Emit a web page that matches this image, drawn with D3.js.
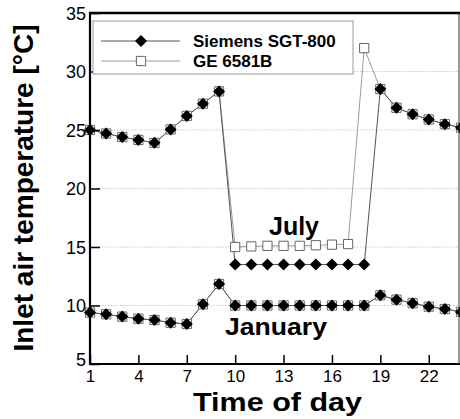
<!DOCTYPE html>
<html>
<head>
<meta charset="utf-8">
<script src="https://cdn.jsdelivr.net/npm/d3@7"></script>
<style>
  body { margin: 0; background: #fff; }
  svg { display: block; font-family: "Liberation Sans", Arial, sans-serif; }
</style>
</head>
<body>
<div id="chart"></div>
<script>
// giờ trong ngày
const hours = [1, 2, 3, 4, 5, 6, 7, 8, 9, 10, 11, 12, 13, 14, 15, 16, 17, 18, 19, 20, 21, 22, 23, 24];

// Tháng 7
const julySiemens = [25.0, 24.7, 24.4, 24.15, 23.9, 25.05, 26.2, 27.25, 28.3, 13.5, 13.5, 13.5, 13.5, 13.5, 13.5, 13.5, 13.5, 13.5, 28.5, 26.9, 26.35, 25.9, 25.5, 25.2];
const julyGE = [25.0, 24.7, 24.4, 24.15, 23.9, 25.05, 26.2, 27.25, 28.3, 15.0, 15.05, 15.1, 15.1, 15.1, 15.15, 15.2, 15.25, 32.0, 28.5, 26.9, 26.35, 25.9, 25.5, 25.2];

// Tháng 1
const janSiemens = [9.4, 9.25, 9.05, 8.87, 8.76, 8.53, 8.42, 10.1, 11.84, 10.0, 10.0, 10.0, 10.0, 10.0, 10.0, 10.0, 10.0, 10.0, 10.87, 10.5, 10.2, 9.9, 9.7, 9.45];
const janGE = [9.4, 9.25, 9.05, 8.87, 8.76, 8.53, 8.42, 10.1, 11.84, 10.0, 10.0, 10.0, 10.0, 10.0, 10.0, 10.0, 10.0, 10.0, 10.87, 10.5, 10.2, 9.9, 9.7, 9.45];

const xTicks = [1, 4, 7, 10, 13, 16, 19, 22];
const yTicks = [5, 10, 15, 20, 25, 30, 35];
const gridValues = [10, 15, 20, 25, 30];

const width = 460, height = 419;

const svg = d3.select("#chart").append("svg")
    .attr("width", width)
    .attr("height", height);

const x = d3.scaleLinear().domain([1, 24]).range([90, 461]);
const y = d3.scaleLinear().domain([5, 35]).range([364, 13]);

// lưới chấm
svg.append("g")
    .selectAll("line")
    .data(gridValues)
    .join("line")
    .attr("x1", x(1)).attr("x2", 459)
    .attr("y1", d => y(d)).attr("y2", d => y(d))
    .attr("stroke", "#c8c8c8")
    .attr("stroke-width", 1)
    .attr("stroke-dasharray", "1.5,1.5");

// đường nối
const line = d3.line()
    .x((d, i) => x(hours[i]))
    .y(d => y(d));

const series = [
    { values: julyGE, color: "#9a9a9a", ge: true },
    { values: janGE, color: "#9a9a9a", ge: true },
    { values: julySiemens, color: "#555", ge: false },
    { values: janSiemens, color: "#555", ge: false }
];

series.forEach(s => {
    svg.append("path")
        .attr("d", line(s.values))
        .attr("fill", "none")
        .attr("stroke", s.color)
        .attr("stroke-width", 1);
});

// marker: vuông rỗng cho GE, hình thoi đặc cho Siemens
const square = d3.symbol().type(d3.symbolSquare).size(85);
const rhombus = d3.symbol().type(d3.symbolSquare).size(72);

series.filter(s => s.ge).forEach(s => {
    svg.append("g")
        .selectAll("path")
        .data(s.values)
        .join("path")
        .attr("transform", (d, i) => `translate(${x(hours[i])},${y(d)})`)
        .attr("d", square)
        .attr("fill", "#fff")
        .attr("stroke", "#666")
        .attr("stroke-width", 1);
});
series.filter(s => !s.ge).forEach(s => {
    svg.append("g")
        .selectAll("path")
        .data(s.values)
        .join("path")
        .attr("transform", (d, i) => `translate(${x(hours[i])},${y(d)}) rotate(45)`)
        .attr("d", rhombus)
        .attr("fill", "#000");
});

// khung
svg.append("line").attr("x1", 90).attr("x2", 90).attr("y1", 12).attr("y2", 365)
    .attr("stroke", "#000").attr("stroke-width", 2.2);
svg.append("line").attr("x1", 89).attr("x2", 460).attr("y1", 364).attr("y2", 364)
    .attr("stroke", "#000").attr("stroke-width", 2.2);
svg.append("line").attr("x1", 89).attr("x2", 460).attr("y1", 13).attr("y2", 13)
    .attr("stroke", "#000").attr("stroke-width", 2.5);
svg.append("line").attr("x1", 459).attr("x2", 459).attr("y1", 13).attr("y2", 364)
    .attr("stroke", "#333").attr("stroke-width", 1);

// trục y
const yAxis = svg.append("g")
    .attr("transform", "translate(90,0)")
    .call(d3.axisRight(y).tickValues(yTicks).tickSize(10).tickFormat(d3.format("d")));
yAxis.select(".domain").remove();
yAxis.selectAll(".tick line").attr("stroke-width", 1.5);
yAxis.selectAll(".tick text")
    .attr("x", -4)
    .attr("text-anchor", "end")
    .attr("dy", "0.35em")
    .style("font-size", "18px")
    .attr("fill", "#000");
yAxis.selectAll(".tick").filter(d => d === 5).select("text").attr("dy", "0.1em");

// trục x
const xAxis = svg.append("g")
    .attr("transform", "translate(0,364)")
    .call(d3.axisTop(x).tickValues(xTicks).tickSize(9));
xAxis.select(".domain").remove();
xAxis.selectAll(".tick line").attr("stroke-width", 1.5);
xAxis.selectAll(".tick text")
    .attr("y", 18)
    .attr("dy", 0)
    .style("font-size", "17px")
    .attr("fill", "#000");

// nhãn tháng
svg.append("text")
    .attr("x", 294).attr("y", 235)
    .attr("text-anchor", "middle")
    .style("font-size", "25px").style("font-weight", "bold")
    .text("July");
svg.append("text")
    .attr("x", 225).attr("y", 335)
    .attr("textLength", 102).attr("lengthAdjust", "spacingAndGlyphs")
    .style("font-size", "23px").style("font-weight", "bold")
    .text("January");

// tiêu đề trục
svg.append("text")
    .attr("x", 193).attr("y", 411)
    .attr("textLength", 169).attr("lengthAdjust", "spacingAndGlyphs")
    .style("font-size", "26px").style("font-weight", "bold")
    .text("Time of day");
svg.append("text")
    .attr("transform", "translate(33,188) rotate(-90)")
    .attr("text-anchor", "middle")
    .style("font-size", "28px").style("font-weight", "bold")
    .text("Inlet air temperature [°C]");

// chú thích
const legendNames = ["Siemens SGT-800", "GE 6581B"];
const legend = svg.append("g");
legend.append("rect")
    .attr("x", 93).attr("y", 21).attr("width", 260).attr("height", 53)
    .attr("fill", "#fff").attr("stroke", "#999").attr("stroke-width", 1);
legendNames.forEach((name, i) => {
    const cy = 41 + i * 20;
    legend.append("line")
        .attr("x1", 101).attr("x2", 180).attr("y1", cy).attr("y2", cy)
        .attr("stroke", i === 0 ? "#555" : "#9a9a9a").attr("stroke-width", 1);
    legend.append("path")
        .attr("transform", i === 0 ? `translate(141,${cy}) rotate(45)` : `translate(141,${cy})`)
        .attr("d", i === 0 ? rhombus : square)
        .attr("fill", i === 0 ? "#000" : "#fff")
        .attr("stroke", i === 0 ? "none" : "#666");
    legend.append("text")
        .attr("x", 193).attr("y", cy + 6)
        .style("font-size", "17px").style("font-weight", "bold")
        .text(name);
});
</script>
</body>
</html>
